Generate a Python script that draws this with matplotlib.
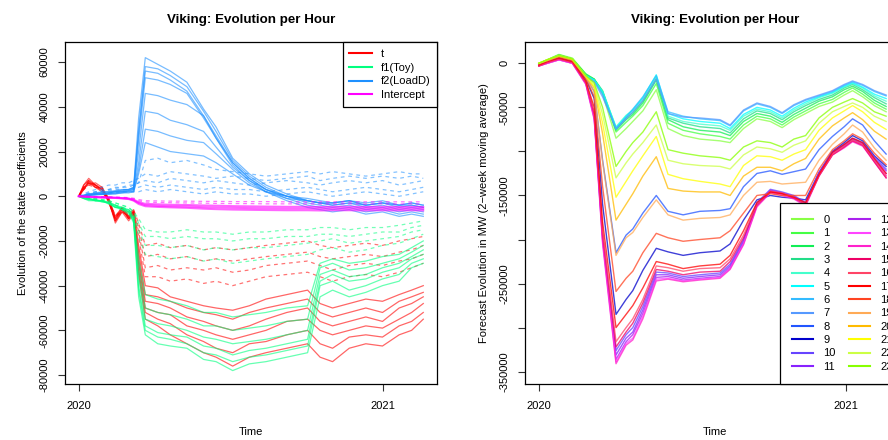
import numpy as np
import matplotlib
matplotlib.use("Agg")
import matplotlib.pyplot as plt
from matplotlib.lines import Line2D

plt.rcParams['font.family'] = ['Liberation Sans', 'DejaVu Sans']
plt.rcParams['font.size'] = 8

# ---------------- left panel: state coefficients (values in thousands) ----------------
# days since 2020-01-01
left_days = [0, 6, 12, 20, 28, 36, 44, 52, 60, 66, 72, 80, 95, 110, 130, 150, 165, 185,
             205, 225, 250, 275, 290, 305, 325, 345, 365, 385, 400, 414]

t_solid = [
    [0, 4, 6, 5, 3, -2, -11, -6, -10, -8, -35, -55, -58, -62, -66, -70, -72, -76, -72, -70, -68, -66, -72, -74, -68, -66, -67, -62, -60, -55],
    [0, 5, 7, 4, 4, -1, -10, -5, -9, -7, -33, -52, -55, -57, -62, -65, -68, -70, -66, -65, -62, -60, -66, -68, -63, -62, -63, -58, -56, -52],
    [0, 3, 7, 5, 3, -2, -12, -7, -11, -8, -30, -50, -52, -53, -58, -60, -62, -64, -62, -60, -56, -55, -60, -62, -60, -58, -59, -55, -52, -48],
    [0, 4, 5, 6, 4, -3, -10, -6, -10, -7, -28, -47, -48, -50, -54, -56, -58, -60, -58, -55, -52, -50, -56, -58, -56, -54, -56, -50, -48, -45],
    [0, 3, 6, 4, 2, -2, -11, -7, -9, -8, -25, -44, -45, -47, -50, -52, -53, -55, -52, -50, -48, -46, -52, -54, -52, -50, -52, -47, -45, -43],
    [0, 5, 8, 5, 3, -1, -9, -5, -10, -6, -22, -40, -41, -45, -47, -49, -50, -51, -49, -46, -44, -42, -48, -50, -48, -46, -47, -44, -42, -40],
]
t_dashed = [
    [0, 4, 6, 5, 4, -2, -10, -6, -9, -7, -18, -36, -36, -38, -37, -39, -38, -40, -38, -36, -35, -34, -36, -38, -36, -35, -36, -34, -32, -30],
    [0, 3, 5, 4, 3, -1, -9, -5, -8, -6, -16, -32, -31, -33, -32, -33, -32, -34, -33, -31, -30, -29, -31, -33, -31, -30, -31, -29, -28, -26],
    [0, 4, 7, 5, 2, -2, -11, -6, -10, -7, -14, -27, -26, -28, -27, -29, -28, -29, -28, -27, -26, -25, -27, -28, -27, -26, -27, -25, -24, -22],
    [0, 3, 6, 4, 3, -1, -10, -5, -9, -6, -12, -22, -21, -23, -22, -24, -23, -24, -23, -22, -21, -20, -22, -23, -22, -21, -22, -20, -19, -18],
]
f1_solid = [
    [0, -1, -1.5, -2, -2, -3, -5, -6, -7, -12, -45, -62, -66, -67, -68, -73, -74, -78, -75, -74, -72, -70, -45, -42, -45, -43, -40, -38, -32, -30],
    [0, -0.5, -1, -1.5, -2.5, -3, -4, -6, -8, -11, -42, -60, -63, -64, -66, -70, -71, -74, -72, -71, -69, -67, -40, -38, -42, -40, -37, -35, -30, -28],
    [0, -1, -2, -2, -2, -3.5, -5, -5, -7, -10, -40, -58, -61, -62, -63, -67, -68, -71, -69, -68, -66, -64, -38, -35, -38, -37, -34, -32, -28, -26],
    [0, -0.5, -1, -2, -2.5, -3, -4.5, -6, -6, -11, -36, -55, -57, -58, -60, -63, -64, -66, -65, -64, -62, -60, -35, -33, -36, -35, -32, -30, -27, -24],
    [0, -1, -1.5, -1.5, -2, -3, -5, -5, -7, -10, -32, -50, -52, -53, -55, -58, -58, -60, -59, -58, -56, -55, -32, -30, -33, -32, -30, -28, -25, -22],
    [0, -0.5, -1, -2, -2, -2.5, -4, -5, -6, -9, -28, -44, -46, -47, -49, -52, -52, -54, -53, -52, -50, -49, -30, -28, -30, -29, -27, -26, -23, -20],
]
f1_dashed = [
    [0, -1, -1, -1.5, -2, -3, -4, -5, -6, -9, -18, -26, -27, -28, -27, -29, -28, -30, -29, -28, -27, -26, -24, -23, -25, -24, -22, -21, -19, -17],
    [0, -0.5, -1, -1.5, -2, -2.5, -4, -5, -6, -8, -15, -22, -22, -23, -22, -24, -23, -24, -23, -23, -22, -21, -20, -19, -21, -20, -19, -18, -16, -15],
    [0, -0.5, -1, -1, -1.5, -2, -3, -4, -5, -7, -12, -18, -18, -19, -18, -19, -19, -20, -19, -19, -18, -18, -17, -17, -18, -17, -16, -16, -14, -13],
    [0, -0.5, -0.5, -1, -1.5, -2, -3, -4, -5, -7, -10, -15, -16, -16, -15, -16, -16, -17, -16, -16, -15, -15, -14, -14, -15, -14, -14, -13, -12, -11],
]
f2_solid = [
    [0, 0.5, 1, 1.5, 2, 2, 2.5, 3, 3, 4, 35, 62, 59, 56, 51, 39, 31, 17, 10, 5, 1, -2, -3, -4, -3, -5, -4, -6, -5, -6],
    [0, 0.3, 0.8, 1, 1.5, 1.5, 2, 2.5, 3, 4, 30, 58, 57, 54, 49, 38, 29, 16, 9, 4, 0, -3, -4, -5, -4, -6, -5, -7, -6, -7],
    [0, 0.2, 0.5, 1, 1, 1.5, 2, 2, 2.5, 3, 28, 56, 55, 52, 47, 36, 27, 15, 8, 3, -1, -4, -5, -6, -5, -7, -6, -8, -7, -8],
    [0, 0.4, 1, 1.2, 1.8, 2, 2.2, 2.8, 3, 3.5, 25, 53, 52, 50, 46, 35, 26, 14, 7, 2, -2, -5, -6, -7, -6, -8, -7, -9, -8, -9],
    [0, 0.3, 0.6, 1, 1, 1.5, 2, 2, 2.5, 3, 20, 46, 45, 43, 41, 36, 26, 15, 8, 3, 0, -2, -3, -4, -3, -4, -3, -5, -4, -5],
    [0, 0.2, 0.5, 0.8, 1, 1, 1.5, 2, 2, 2.5, 15, 38, 37, 34, 32, 29, 22, 13, 7, 3, 0, -2, -3, -3, -2, -4, -3, -4, -4, -5],
    [0, 0.2, 0.4, 0.8, 1, 1, 1.2, 1.5, 2, 2, 12, 30, 29, 27, 25, 24, 19, 12, 6, 2, 0, -1, -2, -3, -2, -3, -2, -4, -3, -4],
    [0, 0.1, 0.3, 0.5, 0.8, 1, 1, 1.5, 1.5, 2, 10, 24, 22, 20, 19, 18, 15, 10, 5, 2, -1, -2, -3, -3, -2, -4, -3, -4, -3, -4],
]
f2_dashed = [
    [0, 1, 2, 3, 4, 5, 5, 6, 6, 7, 8, 10, 9, 11, 10, 9, 8, 9, 8, 7, 8, 9, 7, 8, 9, 8, 9, 8, 9, 8],
    [0, 0.5, 1.5, 2, 3, 3, 4, 4, 5, 5, 6, 7, 6, 8, 7, 6, 7, 6, 5, 6, 7, 6, 5, 6, 7, 6, 7, 5, 6, 7],
    [0, 0.5, 1, 1.5, 2, 2.5, 3, 3, 3, 3.5, 4, 5, 4, 5, 4, 3, 4, 3, 3, 2, 3, 4, 3, 2, 3, 4, 3, 2, 3, 4],
    [0, 0.2, 0.5, 1, 1, 1.5, 1.5, 2, 2, 2, 2, 3, 2, 3, 2, 1, 2, 1, 1, 0, 1, 2, 1, 0, 1, 2, 1, 0, 1, 2],
    [0, 0.5, 1, 2, 2.5, 3, 3.5, 4, 4, 5, 6, 16, 17, 15, 16, 14, 12, 11, 10, 9, 10, 11, 10, 11, 10, 9, 10, 11, 10, 10],
]
icpt_solid = [
    [0, -0.2, -0.3, -0.5, -0.6, -0.7, -0.8, -1.0, -1.3, -2.0, -3.5, -4.5, -4.8, -5.0, -5.2, -5.6, -5.8, -6.0, -6.1, -6.2, -6.3, -6.3, -6.4, -6.3, -6.3, -6.4, -6.3, -6.4, -6.3, -6.4],
    [0, -0.2, -0.3, -0.4, -0.5, -0.6, -0.7, -0.9, -1.1, -1.8, -3.0, -4.0, -4.3, -4.5, -4.6, -4.9, -5.0, -5.2, -5.3, -5.4, -5.5, -5.5, -5.6, -5.5, -5.5, -5.6, -5.5, -5.6, -5.5, -5.6],
    [0, -0.1, -0.2, -0.3, -0.4, -0.5, -0.6, -0.8, -1.0, -1.5, -2.6, -3.4, -3.6, -3.8, -3.9, -4.1, -4.2, -4.4, -4.5, -4.6, -4.7, -4.7, -4.8, -4.7, -4.7, -4.8, -4.7, -4.8, -4.7, -4.8],
]
icpt_dashed = [
    [0, -0.1, -0.2, -0.2, -0.3, -0.4, -0.5, -0.6, -0.8, -1.2, -2.0, -2.6, -2.8, -2.9, -3.0, -3.1, -3.2, -3.3, -3.3, -3.4, -3.4, -3.4, -3.5, -3.4, -3.4, -3.5, -3.4, -3.5, -3.4, -3.5],
    [0, 0, -0.1, -0.1, -0.2, -0.3, -0.4, -0.5, -0.6, -0.9, -1.5, -2.0, -2.1, -2.2, -2.2, -2.3, -2.3, -2.4, -2.4, -2.4, -2.5, -2.5, -2.5, -2.5, -2.5, -2.5, -2.5, -2.5, -2.5, -2.5],
]

coef_names = ["t", "f1(Toy)", "f2(LoadD)", "Intercept"]
coef_colors = ["#FF0000", "#00FF7F", "#1E90FF", "#FF00FF"]

# ---------------- right panel: forecast evolution per hour (thousands of MW) ----------------
right_days = [0, 10, 24, 40, 56, 66, 76, 92, 104, 112, 124, 140, 154, 172, 192, 216, 228, 244,
              260, 276, 290, 304, 318, 334, 350, 364, 374, 386, 400, 414]

hour_series = {
    0: [0, 4, 10, 6, -12, -18, -35, -85, -74, -66, -54, -30, -74, -82, -86, -88, -90, -74, -63, -66, -73, -64, -57, -49, -44, -36, -31, -38, -48, -55],
    1: [0, 4, 10, 5, -12, -18, -33, -78, -67, -60, -48, -23, -68, -76, -80, -83, -86, -70, -60, -63, -70, -61, -54, -46, -41, -33, -28, -35, -45, -52],
    2: [-1, 3, 9, 5, -13, -18, -32, -76, -64, -58, -45, -19, -64, -72, -76, -78, -82, -66, -57, -60, -67, -58, -51, -43, -38, -30, -26, -32, -42, -49],
    3: [-1, 3, 9, 5, -13, -18, -31, -74, -62, -56, -43, -17, -62, -68, -72, -74, -79, -63, -54, -57, -64, -55, -48, -41, -36, -28, -24, -30, -39, -46],
    4: [-1, 3, 9, 4, -14, -19, -32, -72, -59, -53, -40, -15, -60, -66, -69, -71, -76, -60, -52, -55, -62, -53, -46, -39, -34, -27, -23, -28, -37, -43],
    5: [-2, 2, 8, 4, -14, -19, -33, -73, -60, -53, -39, -13, -57, -63, -66, -68, -74, -58, -50, -53, -60, -51, -44, -38, -33, -26, -22, -27, -35, -40],
    6: [-2, 2, 8, 3, -15, -20, -35, -75, -61, -52, -38, -14, -55, -60, -63, -65, -71, -54, -46, -50, -57, -48, -42, -37, -32, -25, -21, -25, -32, -37],
    7: [-3, 1, 7, 2, -16, -21, -38, -74, -63, -55, -42, -18, -57, -61, -62, -64, -70, -53, -45, -49, -56, -47, -41, -36, -31, -24, -20, -24, -31, -36],
    8: [-1, 2, 7, 3, -16, -32, -110, -215, -195, -188, -170, -150, -168, -172, -168, -167, -165, -140, -125, -122, -126, -123, -120, -98, -83, -72, -63, -70, -88, -103],
    9: [-2, 1, 6, 2, -18, -40, -160, -285, -268, -258, -235, -210, -214, -218, -215, -213, -205, -178, -155, -150, -152, -153, -155, -124, -100, -90, -82, -88, -105, -117],
    10: [-2, 1, 5, 1, -22, -58, -195, -326, -308, -300, -276, -237, -238, -242, -240, -238, -228, -200, -158, -143, -146, -150, -158, -124, -100, -92, -85, -90, -106, -120],
    11: [-2, 1, 5, 1, -22, -60, -198, -331, -312, -305, -280, -240, -240, -244, -242, -240, -230, -202, -160, -144, -147, -151, -159, -125, -101, -93, -86, -91, -108, -122],
    12: [-3, 0, 4, 0, -23, -62, -200, -336, -316, -308, -284, -243, -242, -246, -244, -242, -232, -204, -161, -145, -148, -152, -160, -126, -102, -94, -87, -92, -110, -125],
    13: [-3, 0, 4, 0, -23, -62, -202, -339, -318, -312, -287, -245, -244, -247, -245, -243, -233, -205, -162, -146, -149, -153, -161, -127, -103, -95, -88, -93, -111, -127],
    14: [-3, 0, 4, 0, -24, -64, -205, -341, -320, -314, -290, -247, -245, -248, -246, -244, -234, -206, -163, -147, -150, -154, -162, -128, -104, -96, -89, -94, -112, -130],
    15: [-3, 1, 5, 1, -22, -58, -195, -322, -305, -295, -272, -234, -236, -240, -237, -236, -225, -198, -161, -146, -148, -153, -160, -128, -104, -95, -88, -93, -112, -130],
    16: [-3, 1, 5, 1, -21, -55, -190, -316, -300, -290, -268, -230, -232, -236, -233, -232, -222, -195, -160, -145, -147, -152, -160, -127, -103, -94, -87, -92, -110, -128],
    17: [-2, 2, 6, 2, -20, -50, -180, -300, -285, -275, -255, -225, -228, -233, -230, -228, -218, -190, -158, -146, -148, -152, -158, -126, -101, -92, -85, -90, -108, -125],
    18: [-1, 3, 7, 3, -17, -38, -140, -259, -244, -236, -215, -193, -198, -202, -200, -198, -190, -170, -150, -148, -150, -150, -150, -120, -98, -88, -80, -86, -102, -115],
    19: [0, 3, 8, 4, -16, -32, -112, -218, -198, -192, -175, -155, -172, -178, -176, -175, -172, -150, -135, -134, -137, -136, -135, -110, -92, -80, -70, -78, -96, -110],
    20: [0, 4, 8, 4, -15, -28, -80, -178, -160, -148, -128, -106, -142, -145, -146, -146, -150, -128, -118, -118, -122, -114, -108, -86, -71, -62, -56, -64, -77, -86],
    21: [0, 4, 9, 5, -15, -26, -68, -152, -134, -122, -105, -83, -126, -131, -134, -137, -140, -116, -105, -106, -110, -103, -98, -76, -62, -54, -48, -55, -67, -75],
    22: [0, 4, 9, 5, -14, -24, -58, -130, -113, -103, -90, -70, -110, -114, -116, -117, -120, -104, -95, -97, -101, -93, -88, -68, -55, -49, -45, -50, -60, -66],
    23: [0, 4, 9, 5, -14, -22, -50, -117, -100, -90, -78, -55, -98, -102, -105, -107, -110, -95, -88, -90, -95, -86, -82, -62, -50, -44, -40, -45, -55, -60],
}
hour_colors = ["#88FF44", "#44FF44", "#11EE55", "#22DD88", "#44FFCC", "#00FFFF",
               "#33BBFF", "#5599FF", "#2255FF", "#0000CC", "#6644FF", "#8822FF",
               "#AA22EE", "#FF44FF", "#FF22CC", "#EE0066", "#FF4466", "#FF0000",
               "#FF4422", "#FFAA55", "#FFBB00", "#FFFF00", "#CCFF44", "#88FF00"]

year_ticks = [0, 366]
year_labels = ["2020", "2021"]

left_yticks = [60000, 40000, 20000, 0, -20000, -40000, -60000, -80000]
right_yticks = [0, -50000, -100000, -150000, -200000, -250000, -300000, -350000]
right_ylabels = ["0", "-50000", "", "-150000", "", "-250000", "", "-350000"]

# ---------------- figure ----------------
fig = plt.figure(figsize=(8.88, 4.4), dpi=100)
ax1 = fig.add_axes([65 / 888, 1 - 384 / 440, 372 / 888, 342 / 440])
ax2 = fig.add_axes([525 / 888, 1 - 384 / 440, 380 / 888, 342 / 440])

x_left = np.array(left_days)
groups = [(t_solid, t_dashed), (f1_solid, f1_dashed), (f2_solid, f2_dashed), (icpt_solid, icpt_dashed)]
for (solid, dashed), col in zip(groups, coef_colors):
    lw = 1.4 if col == "#FF00FF" else 0.9
    for vals in solid:
        ax1.plot(x_left, np.array(vals) * 1000, color=col, lw=lw, alpha=0.6)
    for vals in dashed:
        ax1.plot(x_left, np.array(vals) * 1000, color=col, lw=0.9, alpha=0.55, ls=(0, (3, 3)))

x_right = np.array(right_days)
for h in range(24):
    ax2.plot(x_right, np.array(hour_series[h]) * 1000, color=hour_colors[h], lw=1.0, alpha=0.75)

for ax in (ax1, ax2):
    ax.set_xticks(year_ticks)
    ax.set_xticklabels(year_labels)
    ax.tick_params(direction='out', length=5, width=0.8, labelsize=8, color='#333333')
    ax.tick_params(axis='x', pad=7.5)
    ax.tick_params(axis='y', pad=6)
    for s in ax.spines.values():
        s.set_linewidth(0.9)
    ax.set_title("Viking: Evolution per Hour", fontsize=9.6, fontweight='bold', pad=14)
    ax.set_xlabel("Time", fontsize=8)
    ax.xaxis.set_label_coords(0.5, -0.125)

ax1.set_xlim(-16.5, 430.5)
ax2.set_xlim(-16.5, 436.5)

ax1.set_ylim(-84000, 69000)
ax1.set_yticks(left_yticks)
ax1.set_yticklabels([str(v) for v in left_yticks], rotation=90, va='center')
ax1.set_ylabel("Evolution of the state coefficients", fontsize=8, va='center')
ax1.yaxis.set_label_coords(-0.113, 0.5)

ax2.set_ylim(-364000, 24200)
ax2.set_yticks(right_yticks)
ax2.set_yticklabels(right_ylabels, rotation=90, va='center')
ax2.set_ylabel("Forecast Evolution in MW (2\u2212week moving average)", fontsize=8, va='center')
ax2.yaxis.set_label_coords(-0.108, 0.5)

h1 = [Line2D([], [], color=c, lw=1.5) for c in coef_colors]
leg1 = ax1.legend(h1, coef_names, loc='upper right', borderaxespad=0, fancybox=False,
                  edgecolor='black', framealpha=1, fontsize=8, handlelength=2.0,
                  handletextpad=0.8, labelspacing=0.35, borderpad=0.6)
leg1.get_frame().set_linewidth(0.9)

h2 = [Line2D([], [], color=c, lw=1.5) for c in hour_colors]
leg2 = ax2.legend(h2, [str(h) for h in range(24)], loc='lower right', ncol=2, borderaxespad=0,
                  fancybox=False, edgecolor='black', framealpha=1, fontsize=8,
                  handlelength=1.9, handletextpad=0.9, labelspacing=0.3, columnspacing=1.2,
                  borderpad=1.1)
leg2.get_frame().set_linewidth(0.9)

fig.savefig("out.png", dpi=100)
